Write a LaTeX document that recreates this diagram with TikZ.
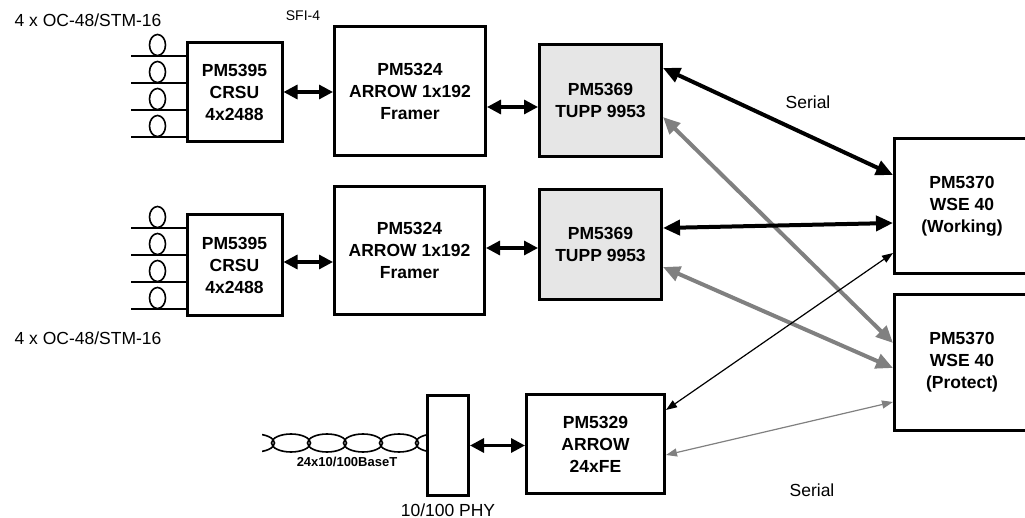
\documentclass[tikz,border=0pt]{standalone}
\usepackage{fontspec}
\setmainfont{Liberation Sans}
\usetikzlibrary{arrows.meta,positioning}
\definecolor{tuppgray}{RGB}{230,230,230}
\definecolor{linkgray}{RGB}{128,128,128}
\begin{document}
\begin{tikzpicture}[x=1pt,y=-1pt,
  blk/.style={draw, line width=3pt, align=center, inner sep=0pt,
    font=\bfseries\fontsize{17.5}{22}\selectfont},
  lbl/.style={font=\fontsize{17.5}{20}\selectfont},
  link/.style={<->, line width=3.2pt, >={Triangle[length=14pt,width=14pt]}},
  serial/.style={<->, line width=4pt, >={Triangle[length=17pt,width=15pt]}},
  thinlink/.style={<->, line width=1.2pt, >={Triangle[length=11pt,width=8pt]}}]
\useasboundingbox (0,0) rectangle (1025,518);
% boxes
\node[blk, minimum width=95pt, minimum height=99pt] (crsuA) at (234.5,92) {PM5395\\CRSU\\4x2488};
\node[blk, minimum width=95pt, minimum height=101pt] (crsuB) at (234.5,265) {PM5395\\CRSU\\4x2488};
\node[blk, minimum width=151pt, minimum height=129pt] (framerA) at (410,91) {PM5324\\ARROW 1x192\\Framer};
\node[blk, minimum width=150pt, minimum height=128pt] (framerB) at (409.5,250.5) {PM5324\\ARROW 1x192\\Framer};
\node[blk, fill=tuppgray, minimum width=122pt, minimum height=112pt] (tuppA) at (600.5,100.5) {PM5369\\TUPP 9953};
\node[blk, fill=tuppgray, minimum width=122pt, minimum height=110pt] (tuppB) at (600.5,244.5) {PM5369\\TUPP 9953};
\node[blk, minimum width=135pt, minimum height=135pt] (wseW) at (962,206) {PM5370\\WSE 40\\(Working)};
\node[blk, minimum width=135pt, minimum height=136pt] (wseP) at (962,362.5) {PM5370\\WSE 40\\(Protect)};
\node[blk, minimum width=138pt, minimum height=99pt] (fe) at (595.5,444) {PM5329\\ARROW\\24xFE};
\node[blk, minimum width=41pt, minimum height=100pt] (phy) at (448,445.5) {};
% labels
\node[lbl] (ocA) at (88,20) {4 x OC-48/STM-16};
\node[lbl] (ocB) at (88,338) {4 x OC-48/STM-16};
\node[font=\fontsize{14}{16}\selectfont] (sfi) at (303,16) {SFI-4};
\node[lbl] (serA) at (808,102) {Serial};
\node[lbl] (serB) at (812,490) {Serial};
\node[lbl, below=3pt of phy] (phylbl) {10/100 PHY};
\node[font=\bfseries\fontsize{13}{15}\selectfont] (tp) at (347,462) {24x10/100BaseT};
% optical inputs
\foreach \b in {crsuA,crsuB}
  \foreach \i in {0,...,3}{
    \draw[line width=2.8pt] ([yshift={-15pt-27pt*\i}]\b.north west) -- ++(-55,0);
    \draw[line width=1.6pt] ([shift={(-28,4+27*\i)}]\b.north west) ellipse [x radius=8pt, y radius=10.5pt];
  }
% twisted pair
\begin{scope}
  \clip (262,430) rectangle (426,456);
  \foreach \k in {0,...,5}
    \draw[line width=1.6pt] (255+36*\k,443) ellipse [x radius=19.5pt, y radius=9pt];
\end{scope}
% links
\draw[link] (crsuA.east) -- (crsuA.east -| framerA.west);
\draw[link] ([yshift=-16pt]framerA.east) -- ([yshift=-16pt]framerA.east -| tuppA.west);
\draw[link] ([yshift=3pt]crsuB.east) -- ([yshift=3pt]crsuB.east -| framerB.west);
\draw[link] ([yshift=2.5pt]framerB.east) -- ([yshift=2.5pt]framerB.east -| tuppB.west);
\draw[link] (phy.east) -- (phy.east -| fe.west);
\draw[serial, linkgray] ([yshift=-16.5pt]tuppA.east) -- ([yshift=19.5pt]wseP.west);
\draw[serial, linkgray] ([yshift=-22.5pt]tuppB.east) -- ([yshift=-5.5pt]wseP.west);
\draw[serial] ([yshift=32.5pt]tuppA.east) -- ([yshift=31pt]wseW.west);
\draw[serial] ([yshift=16.5pt]tuppB.east) -- ([yshift=-17pt]wseW.west);
\draw[thinlink] ([yshift=34pt]fe.east) -- ([yshift=-47pt]wseW.west);
\draw[thinlink, linkgray] ([yshift=-11pt]fe.east) -- ([yshift=-39.5pt]wseP.west);
\end{tikzpicture}
\end{document}
